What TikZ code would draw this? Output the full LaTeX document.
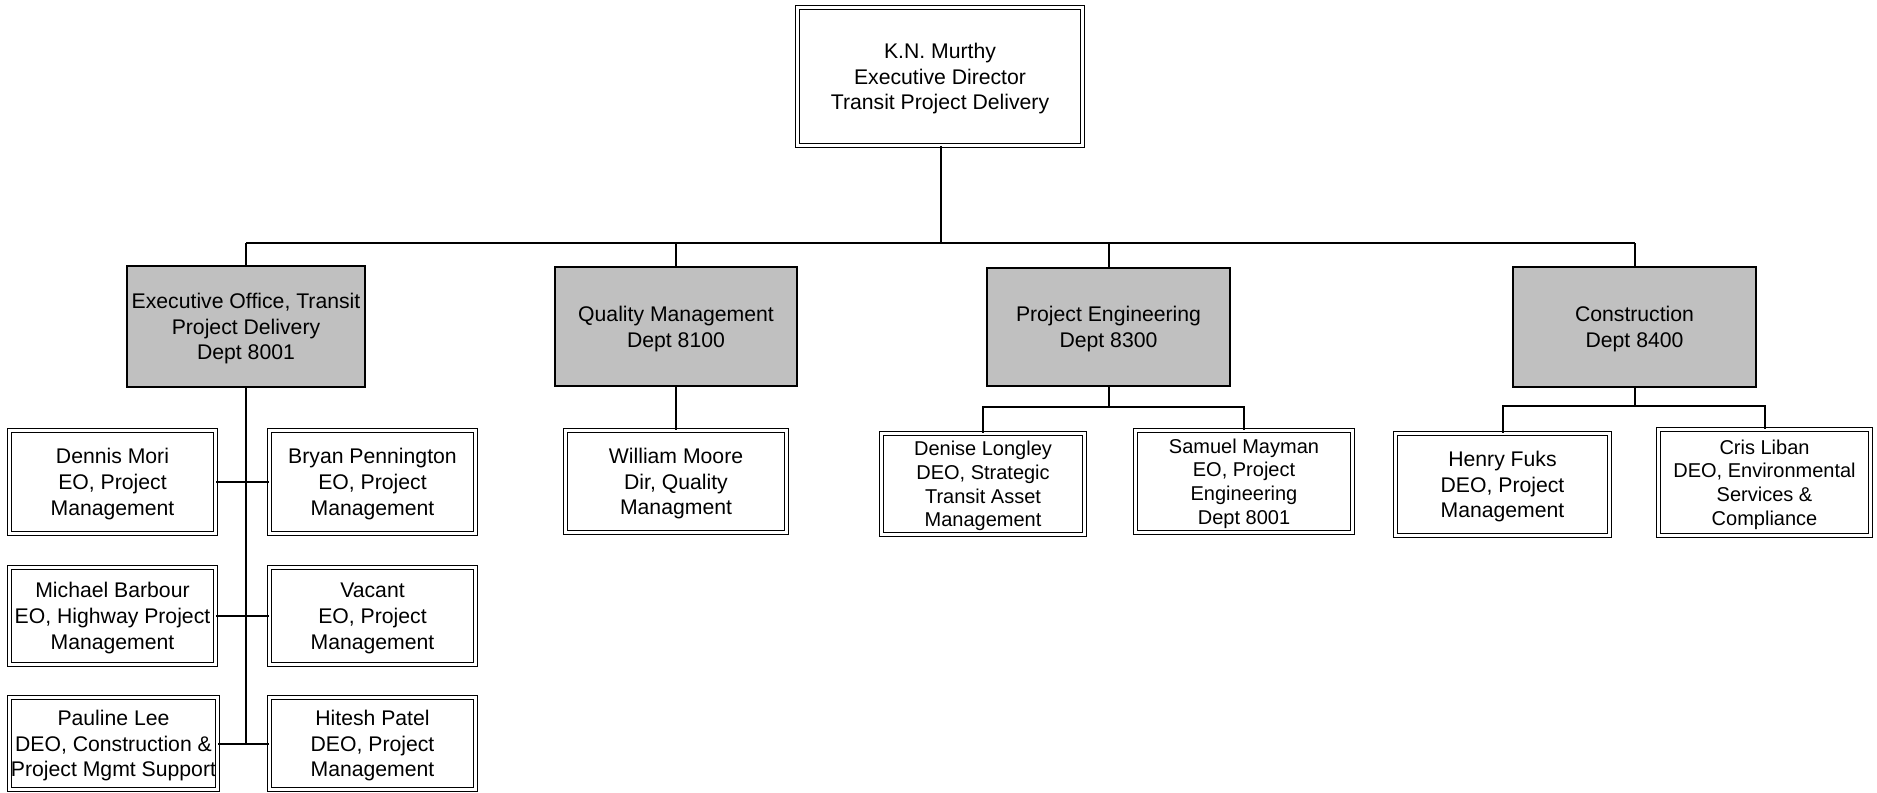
\documentclass[tikz,border=0pt]{standalone}
\usepackage{fontspec}
\setmainfont{Liberation Sans}
\usetikzlibrary{calc}
\definecolor{deptgray}{HTML}{C0C0C0}
\definecolor{linegray}{HTML}{000000}

\begin{document}
\begin{tikzpicture}[x=0.5pt, y=-0.5pt,
    every node/.style={align=center, inner sep=0pt, text depth=-0.8pt,
      font=\fontsize{10.6pt}{12.9pt}\selectfont},
    head/.style={draw=linegray, line width=0.75pt, double=white, double distance=1.15pt},
    dept/.style={draw=linegray, line width=1pt, fill=deptgray},
    staff/.style={head},
    small/.style={font=\fontsize{10pt}{11.8pt}\selectfont},
    link/.style={draw=linegray, line width=1pt}]
  \useasboundingbox (0,0) rectangle (1877,792);

  % top
  \node[head, minimum width=142.5pt, minimum height=69pt] (murthy) at (940,76.5)
    {K.N. Murthy\\Executive Director\\Transit Project Delivery};

  % departments
  \node[dept, minimum width=119pt, minimum height=60.5pt] (exo) at (246,326.5)
    {Executive Office, Transit\\Project Delivery\\Dept 8001};
  \node[dept, minimum width=121pt, minimum height=59.5pt] (qm) at (676,326.5)
    {Quality Management\\Dept 8100};
  \node[dept, minimum width=121.5pt, minimum height=59pt] (pe) at (1108.5,327)
    {Project Engineering\\Dept 8300};
  \node[dept, minimum width=121.5pt, minimum height=60pt] (con) at (1634.5,327)
    {Construction\\Dept 8400};

  % executive office staff
  \node[staff, minimum width=103pt, minimum height=51.5pt] (mori) at (112.5,482)
    {Dennis Mori\\EO, Project\\Management};
  \node[staff, minimum width=103pt, minimum height=51.5pt] (penn) at (372.5,482)
    {Bryan Pennington\\EO, Project\\Management};
  \node[staff, minimum width=103pt, minimum height=48.5pt] (barb) at (112.5,616)
    {Michael Barbour\\EO, Highway Project\\Management};
  \node[staff, minimum width=103pt, minimum height=48.5pt] (vac) at (372.5,616)
    {Vacant\\EO, Project\\Management};
  \node[staff, minimum width=104pt, minimum height=46pt] (lee) at (113.5,743.5)
    {Pauline Lee\\DEO, Construction \&\\Project Mgmt Support};
  \node[staff, minimum width=103pt, minimum height=46pt] (patel) at (372.5,743.5)
    {Hitesh Patel\\DEO, Project\\Management};

  % other staff
  \node[staff, minimum width=110.5pt, minimum height=51pt] (moore) at (676,481.5)
    {William Moore\\Dir, Quality\\Managment};
  \node[staff, small, minimum width=101.5pt, minimum height=50.5pt] (longley) at (983,484)
    {Denise Longley\\DEO, Strategic\\Transit Asset\\Management};
  \node[staff, small, minimum width=108.5pt, minimum height=51pt] (mayman) at (1244,481.5)
    {Samuel Mayman\\EO, Project\\Engineering\\Dept 8001};
  \node[staff, minimum width=107pt, minimum height=51pt] (fuks) at (1502.5,484.5)
    {Henry Fuks\\DEO, Project\\Management};
  \node[staff, small, minimum width=106pt, minimum height=53pt] (liban) at (1764.5,482.5)
    {Cris Liban\\DEO, Environmental\\Services \&\\Compliance};

  % connectors
  \coordinate (bus) at (941,243);
  \coordinate (pebus) at (1108.5,407);
  \coordinate (conbus) at (1634.5,406);

  \draw[link] (bus |- murthy.south) -- (bus);
  \draw[link] (exo.north |- bus) -- (con.north |- bus);
  \foreach \d in {exo,qm,pe,con}
    \draw[link] (\d.north) -- (\d.north |- bus);

  \draw[link] (exo.south) -- (exo.south |- lee.east);
  \foreach \l/\r in {mori/penn, barb/vac, lee/patel}
    \draw[link] (\l.east) -- (\r.west);

  \draw[link] (qm.south) -- (moore.north);

  \draw[link] (pe.south) -- (pebus);
  \draw[link] (longley.north) |- (pebus) -| (mayman.north);

  \draw[link] (con.south) -- (conbus);
  \draw[link] (fuks.north) |- (conbus) -| (liban.north);
\end{tikzpicture}
\end{document}
